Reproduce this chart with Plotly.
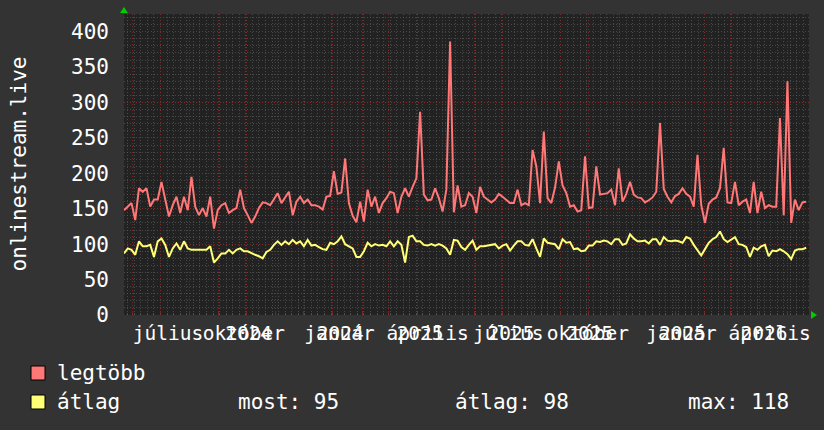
import pandas as pd
import plotly.graph_objects as go

# ---------------- data ----------------
start_date = "2024-05-23"
end_date = "2026-05-24"
step_days = 4

legtobb = [148, 153, 158, 134, 179, 174, 179, 153, 163, 163,
           188, 163, 139, 155, 167, 144, 167, 148, 195, 153,
           141, 151, 139, 167, 122, 148, 155, 158, 144, 148,
           151, 177, 151, 141, 130, 139, 151, 159, 158, 155,
           163, 172, 158, 167, 174, 141, 160, 167, 158, 163,
           155, 155, 153, 149, 167, 168, 203, 171, 173, 221,
           158, 140, 131, 160, 132, 177, 153, 167, 144, 158,
           165, 174, 172, 144, 167, 179, 167, 181, 193, 287,
           170, 162, 163, 179, 165, 146, 177, 386, 145, 183,
           153, 155, 172, 167, 144, 181, 167, 163, 159, 163,
           171, 167, 162, 158, 158, 177, 155, 158, 155, 233,
           210, 158, 259, 165, 158, 180, 217, 183, 172, 153,
           155, 146, 148, 224, 151, 152, 210, 170, 171, 172,
           177, 155, 207, 160, 171, 188, 170, 166, 165, 159,
           162, 166, 174, 271, 178, 167, 159, 168, 171, 179,
           171, 167, 153, 226, 155, 130, 157, 163, 166, 179,
           236, 159, 158, 188, 155, 160, 163, 144, 188, 144,
           174, 151, 155, 153, 153, 278, 141, 330, 130, 163,
           148, 159, 160]

atlag = [87, 94, 92, 85, 104, 97, 97, 99, 82, 104,
         108, 99, 82, 94, 101, 92, 104, 94, 92, 92,
         92, 92, 92, 97, 74, 80, 87, 87, 92, 87,
         92, 94, 90, 90, 87, 85, 83, 80, 89, 92,
         99, 104, 99, 104, 100, 106, 101, 104, 97, 106,
         98, 99, 96, 93, 92, 102, 100, 104, 111, 100,
         97, 94, 82, 82, 90, 102, 97, 100, 98, 99,
         97, 104, 97, 104, 99, 74, 110, 112, 104, 104,
         99, 98, 100, 98, 100, 98, 94, 85, 106, 105,
         96, 92, 99, 105, 92, 97, 97, 98, 100, 100,
         94, 98, 100, 91, 98, 104, 104, 99, 98, 107,
         94, 82, 108, 102, 101, 100, 93, 107, 102, 103,
         93, 94, 90, 91, 98, 98, 104, 103, 105, 104,
         100, 107, 107, 99, 101, 114, 108, 104, 104, 105,
         101, 107, 107, 99, 110, 105, 104, 105, 104, 102,
         110, 108, 99, 91, 84, 93, 102, 107, 110, 118,
         107, 103, 107, 110, 100, 99, 96, 82, 95, 92,
         97, 99, 83, 91, 90, 93, 90, 86, 79, 91,
         93, 93, 95]

series_names = ["legtöbb", "átlag"]
series_colors = ["#ff7777", "#ffff77"]

y_axis_title = "onlinestream.live"
y_tick_values = [0, 50, 100, 150, 200, 250, 300, 350, 400]

# x-axis labels as drawn in the original (month names and years overlap)
month_label_dates = ["2024-07-09", "2024-09-28", "2025-01-08", "2025-04-12",
                     "2025-07-07", "2025-09-30", "2026-01-08", "2026-04-12"]
month_label_texts = ["július", "október", "január", "április",
                     "július", "október", "január", "április"]
year_label_dates = ["2024-10-03", "2025-01-08 18:00", "2025-04-04", "2025-07-10",
                    "2025-10-02", "2026-01-09", "2026-04-06"]
year_label_texts = ["2024", "2024", "2025", "2025", "2025", "2025", "2026"]

stat_labels = ["most:", "átlag:", "max:"]
stat_values = [95, 98, 118]

# ---------------- figure ----------------
dates = pd.date_range(start_date, periods=len(legtobb), freq=f"{step_days}D")
month_ticks = pd.date_range("2024-06-01", "2026-05-01", freq="MS")

FONT = "DejaVu Sans Mono"
BG = "#333333"
PLOT_BG = "#222222"
MAJOR = "rgba(135,40,40,0.85)"
MINOR = "rgba(100,100,100,0.6)"

fig = go.Figure()
fig.add_trace(go.Scatter(x=dates, y=legtobb, mode="lines", name=series_names[0],
                         line=dict(color=series_colors[0], width=2), xaxis="x"))
fig.add_trace(go.Scatter(x=dates, y=atlag, mode="lines", name=series_names[1],
                         line=dict(color=series_colors[1], width=2), xaxis="x2"))

fig.update_layout(
    width=824, height=430,
    margin=dict(l=124, r=15, t=14, b=115, autoexpand=False),
    paper_bgcolor=BG, plot_bgcolor=PLOT_BG,
    showlegend=False,
    font=dict(family=FONT, color="#ffffff"),
)

fig.update_layout(
    xaxis=dict(
        type="date", range=[start_date, end_date], automargin=False,
        tickmode="array", tickvals=month_ticks, showticklabels=False,
        showgrid=True, gridcolor=MAJOR, griddash="1px,2px", gridwidth=1,
        ticks="inside", ticklen=3, tickcolor=MAJOR,
        minor=dict(dtick=7 * 86400000, tick0="2024-05-27", showgrid=True,
                   gridcolor=MINOR, griddash="1px,2px", gridwidth=1,
                   ticks="inside", ticklen=2, tickcolor=MINOR),
        zeroline=False, showline=False,
    ),
    xaxis2=dict(
        type="date", range=[start_date, end_date], automargin=False,
        overlaying="x", anchor="y", side="bottom",
        tickmode="array",
        tickvals=month_label_dates + year_label_dates,
        ticktext=month_label_texts + year_label_texts,
        tickangle=0, ticklabelstandoff=4, ticks="",
        tickfont=dict(family=FONT, size=19.5, color="#ffffff"),
        showgrid=False, zeroline=False, showline=False,
    ),
    yaxis=dict(
        range=[0, 425], automargin=False, tickmode="array", tickvals=y_tick_values,
        tickfont=dict(family=FONT, size=21, color="#ffffff"),
        ticklabelstandoff=14,
        showgrid=True, gridcolor=MAJOR, griddash="1px,2px", gridwidth=1,
        minor=dict(dtick=10, showgrid=True, gridcolor=MINOR,
                   griddash="1px,2px", gridwidth=1),
        zeroline=False, showline=False,
    ),
)

W, H = 685.0, 301.0
def px(xp):
    return (xp - 124) / W
def py(yp):
    return (315 - yp) / H

annotations = [
    dict(text=y_axis_title, x=px(18), y=0.5, xref="paper", yref="paper",
         textangle=-90, showarrow=False, xanchor="center", yanchor="middle",
         font=dict(family=FONT, size=21, color="#ffffff")),
]
shapes = []
rows_y = [373, 402]
for name, col, ry in zip(series_names, series_colors, rows_y):
    shapes.append(dict(type="rect", xref="paper", yref="paper",
                       x0=px(31), x1=px(45), y0=py(ry + 7), y1=py(ry - 7),
                       fillcolor=col, line=dict(color="#000000", width=1)))
    annotations.append(dict(text=name, x=px(55), y=py(ry), xref="paper", yref="paper",
                            showarrow=False, xanchor="left", yanchor="middle",
                            font=dict(family=FONT, size=21, color="#ffffff")))
stat_x = [236, 453, 686]
for lab, val, sx in zip(stat_labels, stat_values, stat_x):
    annotations.append(dict(text=f"{lab} {val}", x=px(sx), y=py(rows_y[1]),
                            xref="paper", yref="paper", showarrow=False,
                            xanchor="left", yanchor="middle",
                            font=dict(family=FONT, size=21, color="#ffffff")))

# green axis arrows
shapes.append(dict(type="path", xref="paper", yref="paper",
                   path=f"M {px(120)} {py(13)} L {px(128)} {py(13)} L {px(124)} {py(7)} Z",
                   fillcolor="#00cc00", line=dict(color="#00cc00", width=0)))
shapes.append(dict(type="path", xref="paper", yref="paper",
                   path=f"M {px(811)} {py(311)} L {px(811)} {py(319)} L {px(817)} {py(315)} Z",
                   fillcolor="#00cc00", line=dict(color="#00cc00", width=0)))

fig.update_layout(annotations=annotations, shapes=shapes)
fig.write_html("out.html", config={"displayModeBar": False},
               post_script="document.body.style.margin='0';document.body.style.overflow='hidden';")
